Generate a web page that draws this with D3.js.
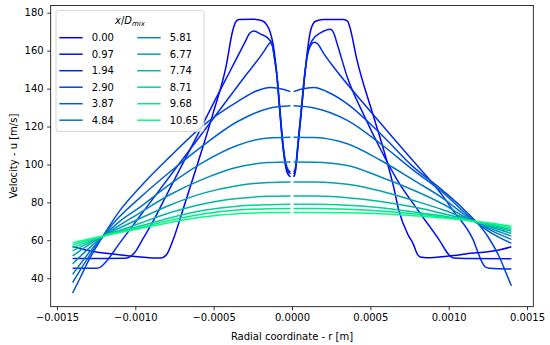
<!DOCTYPE html>
<html>
<head>
<meta charset="utf-8">
<script src="https://cdn.jsdelivr.net/npm/d3@7"></script>
<style>
  body { margin: 0; background: #fff; }
  text { font-family: "DejaVu Sans", sans-serif; }
</style>
</head>
<body>
<svg id="chart" width="550" height="345"></svg>
<script>
// legend labels, x/D_mix
var labels = ["0.00", "0.97", "1.94", "2.90", "3.87", "4.84",
              "5.81", "6.77", "7.74", "8.71", "9.68", "10.65"];

// profiles: [r in mm, u in m/s]; null marks the break at r = 0
var u_000 = [[-1.40,56.6],[-1.33,55.2],[-1.26,54.0],[-1.13,52.6],[-1.00,51.5],[-0.84,50.6],[-0.80,52.5],[-0.76,60],
  [-0.70,75],[-0.60,101],[-0.50,128],[-0.42,152],[-0.38,170],[-0.36,175],[-0.34,176.5],[-0.25,176.6],[-0.19,175.8],
  [-0.16,173.5],[-0.14,170],[-0.12,163],[-0.10,150],[-0.08,130],[-0.06,111],[-0.045,101],[-0.03,95.5],[-0.01,93.5], null,
  [0.01,93.5],[0.02,95.5],[0.04,111],[0.06,128],[0.08,146],[0.10,161],[0.12,171],[0.15,175.5],[0.20,176.5],[0.33,176.5],
  [0.355,175.5],[0.365,173.5],[0.416,154.6],[0.522,124.9],[0.586,107.4],[0.649,88],[0.681,76],[0.74,63],[0.772,58.4],
  [0.803,52.3],[0.825,51],[0.86,50.8],[1.00,51.7],[1.11,52.8],[1.32,54.9],[1.40,56.6]];
var u_097 = [[-1.40,50.4],[-1.20,50.4],[-1.06,50.5],[-1.03,51.5],[-1.00,54],[-0.95,61],[-0.90,68],[-0.80,84],[-0.70,100],
  [-0.60,116],[-0.50,132.5],[-0.40,148.5],[-0.30,164.5],[-0.27,169.2],[-0.244,170.4],[-0.20,168.7],[-0.159,167],
  [-0.127,163.4],[-0.11,155],[-0.095,146],[-0.08,131],[-0.06,112],[-0.045,102],[-0.03,97],[-0.01,95], null,
  [0.01,95],[0.02,96.5],[0.04,112],[0.06,129],[0.08,146],[0.10,159],[0.13,165.5],[0.184,169.5],[0.247,171.3],[0.265,169.5],
  [0.289,163.4],[0.353,146],[0.459,126],[0.565,108],[0.67,92],[0.82,74],[0.941,60],[1.00,52.5],[1.03,50.6],[1.10,50.4],[1.40,50.3]];
var u_194 = [[-1.40,45.3],[-1.25,45.3],[-1.227,45.6],[-1.20,47.5],[-1.10,58.5],[-0.90,80.5],[-0.70,102.5],[-0.50,124.5],
  [-0.30,146.5],[-0.18,159.5],[-0.15,163.3],[-0.138,164.2],[-0.125,162.5],[-0.11,155],[-0.095,146],[-0.08,132],[-0.06,113],
  [-0.045,103],[-0.03,98],[-0.01,96], null,
  [0.01,96],[0.02,97.5],[0.04,113],[0.06,130],[0.08,147],[0.10,158],[0.125,163.5],[0.142,164.5],[0.16,163.8],[0.205,158.2],
  [0.268,151.1],[0.50,128],[0.75,104],[0.966,83],[1.025,76],[1.152,61],[1.216,48],[1.235,45.8],[1.26,45.2],[1.40,44.8]];
var u_290 = [[-1.40,32.2],[-1.35,40.5],[-1.30,49],[-1.20,63],[-1.10,75.5],[-0.97,88],[-0.78,104],[-0.56,121],[-0.35,133],
  [-0.22,139],[-0.14,140.6],[-0.08,140],[-0.01,138.4], null,
  [0.01,138.4],[0.08,140],[0.142,140.6],[0.22,138.5],[0.353,132],[0.565,116.2],[0.776,98.6],[0.966,86],[1.10,76],
  [1.25,62],[1.33,50],[1.36,44],[1.40,36]];
var u_387 = [[-1.40,37.7],[-1.35,44.5],[-1.30,51],[-1.20,63],[-1.10,72.5],[-0.97,82.5],[-0.78,96],[-0.56,110.5],
  [-0.35,122.5],[-0.15,129.5],[-0.01,130.9], null,
  [0.01,130.9],[0.142,129.8],[0.353,123.2],[0.565,110.9],[0.776,96.9],[0.966,85],[1.11,74],[1.25,65],[1.40,58.4]];
var u_484 = [[-1.40,42],[-1.30,53],[-1.20,62.5],[-1.10,70],[-0.97,77.5],[-0.78,89.5],[-0.56,101.5],[-0.35,110],
  [-0.15,114],[-0.01,114.4], null,
  [0.01,114.4],[0.142,114.2],[0.353,110.9],[0.565,102.2],[0.776,91.7],[0.966,82],[1.11,73],[1.25,66],[1.40,60.5]];
var u_581 = [[-1.40,47.6],[-1.30,55.5],[-1.20,62.5],[-1.10,68],[-0.97,74.5],[-0.78,84],[-0.56,92.5],[-0.35,98.5],
  [-0.15,101],[-0.01,101.3], null,
  [0.01,101.3],[0.142,101.2],[0.353,99.5],[0.565,93.4],[0.776,86.4],[0.966,79],[1.11,72],[1.25,66.8],[1.40,62.2]];
var u_677 = [[-1.40,51.8],[-1.30,57.5],[-1.20,62.5],[-1.10,66.5],[-0.97,71.5],[-0.78,78.5],[-0.56,85],[-0.35,88.8],
  [-0.15,90.5],[-0.01,90.8], null,
  [0.01,90.8],[0.142,90.7],[0.353,89.5],[0.565,86],[0.776,81],[0.966,76],[1.11,71.5],[1.25,67.5],[1.40,63.6]];
var u_774 = [[-1.40,54.4],[-1.30,58.5],[-1.20,62.3],[-1.10,65.2],[-0.97,69],[-0.78,74.5],[-0.56,79.3],[-0.35,82],
  [-0.15,83.2],[-0.01,83.4], null,
  [0.01,83.4],[0.142,83.3],[0.353,82.5],[0.565,80.5],[0.776,77.5],[0.966,74],[1.11,71],[1.25,68],[1.40,64.8]];
var u_871 = [[-1.40,56.0],[-1.30,59.3],[-1.20,62.3],[-1.10,64.7],[-0.97,67.5],[-0.78,71.8],[-0.56,75.8],[-0.35,78],
  [-0.15,78.8],[-0.01,79], null,
  [0.01,79],[0.142,79],[0.353,78.5],[0.565,77.2],[0.776,75],[0.966,72.8],[1.11,70.8],[1.25,68.5],[1.40,65.7]];
var u_968 = [[-1.40,57.5],[-1.30,60],[-1.20,62.3],[-1.10,64.3],[-0.97,66.7],[-0.78,70.5],[-0.56,74],[-0.35,76],
  [-0.15,76.6],[-0.01,76.8], null,
  [0.01,76.8],[0.142,76.8],[0.353,76.4],[0.565,75.5],[0.776,74],[0.966,72.2],[1.11,70.7],[1.25,68.8],[1.40,66.5]];
var u_1065 = [[-1.40,58.7],[-1.30,60.6],[-1.20,62.4],[-1.10,64.1],[-0.97,66.2],[-0.78,69.4],[-0.56,72.4],[-0.35,74],
  [-0.15,74.6],[-0.01,74.7], null,
  [0.01,74.7],[0.142,74.7],[0.353,74.5],[0.565,74],[0.776,73],[0.966,71.8],[1.11,70.6],[1.25,69.2],[1.40,67.4]];

var profiles = [u_000, u_097, u_194, u_290, u_387, u_484, u_581, u_677, u_774, u_871, u_968, u_1065];

var xTicks = [-0.0015, -0.0010, -0.0005, 0, 0.0005, 0.0010, 0.0015];
var yTicks = [40, 60, 80, 100, 120, 140, 160, 180];

var svg = d3.select("#chart"),
    margin = {top: 5.5, right: 16.7, bottom: 38.3, left: 50.7},
    width = +svg.attr("width") - margin.left - margin.right,
    height = +svg.attr("height") - margin.top - margin.bottom,
    g = svg.append("g").attr("transform", "translate(" + margin.left + "," + margin.top + ")");

// matplotlib style 5% margins around the data
var all = d3.merge(profiles).filter(function(d) { return d; });
var rExt = d3.extent(all, function(d) { return d[0] * 1e-3; }),
    uExt = d3.extent(all, function(d) { return d[1]; });
var rPad = (rExt[1] - rExt[0]) * 0.05, uPad = (uExt[1] - uExt[0]) * 0.05;

var x = d3.scaleLinear().domain([rExt[0] - rPad, rExt[1] + rPad]).range([0, width]);
var y = d3.scaleLinear().domain([uExt[0] - uPad, uExt[1] + uPad]).range([height, 0]);

// winter colormap
function color(i) {
  var t = i / (profiles.length - 1);
  return d3.rgb(0, Math.round(255 * t), Math.round(255 * (1 - 0.5 * t))).toString();
}

var line = d3.line()
    .defined(function(d) { return d; })
    .x(function(d) { return x(d[0] * 1e-3); })
    .y(function(d) { return y(d[1]); })
    .curve(d3.curveMonotoneX);

g.selectAll(".profile")
  .data(profiles)
  .enter().append("path")
    .attr("class", "profile")
    .attr("fill", "none")
    .attr("stroke", function(d, i) { return color(i); })
    .attr("stroke-width", 1.5)
    .attr("stroke-linejoin", "round")
    .attr("d", line);

// axes
var xAxis = g.append("g")
    .attr("transform", "translate(0," + height + ")")
    .call(d3.axisBottom(x).tickValues(xTicks).tickFormat(d3.format(".4f")).tickSize(3.5).tickPadding(3.5));
var yAxis = g.append("g")
    .call(d3.axisLeft(y).tickValues(yTicks).tickSize(3.5).tickPadding(3.5));

[xAxis, yAxis].forEach(function(a) {
  a.select(".domain").remove();
  a.selectAll("line").attr("stroke", "#000").attr("stroke-width", 0.8);
  a.selectAll("text").attr("fill", "#000").style("font-size", "10px");
});

g.append("rect")
    .attr("width", width)
    .attr("height", height)
    .attr("fill", "none")
    .attr("stroke", "#000")
    .attr("stroke-width", 0.8);

svg.append("text")
    .attr("x", margin.left + width / 2)
    .attr("y", 340)
    .attr("text-anchor", "middle")
    .style("font-size", "10px")
    .text("Radial coordinate - r [m]");

svg.append("text")
    .attr("transform", "translate(17," + (margin.top + height / 2) + ") rotate(-90)")
    .attr("text-anchor", "middle")
    .style("font-size", "10px")
    .text("Velocity - u [m/s]");

// legend
var legend = svg.append("g").attr("transform", "translate(56,10.5)");
legend.append("rect")
    .attr("width", 148)
    .attr("height", 121)
    .attr("rx", 2.5)
    .attr("fill", "#fff")
    .attr("fill-opacity", 0.8)
    .attr("stroke", "#cccccc")
    .attr("stroke-width", 0.8);

var title = legend.append("text")
    .attr("x", 74)
    .attr("y", 13)
    .attr("text-anchor", "middle")
    .style("font-size", "10px")
    .style("font-style", "italic");
title.append("tspan").text("x");
title.append("tspan").style("font-style", "normal").text("/");
title.append("tspan").text("D");
title.append("tspan").attr("dy", 2.5).style("font-size", "7px").text("mix");

labels.forEach(function(lab, i) {
  var col = Math.floor(i / 6), row = i % 6;
  var lx = 3.3 + col * 78, ly = 27.2 + row * 16.5;
  legend.append("line")
      .attr("x1", lx).attr("x2", lx + 23.4)
      .attr("y1", ly).attr("y2", ly)
      .attr("stroke", color(i))
      .attr("stroke-width", 1.5);
  legend.append("text")
      .attr("x", lx + 32.4)
      .attr("y", ly + 3.6)
      .style("font-size", "10px")
      .text(lab);
});
</script>
</body>
</html>
